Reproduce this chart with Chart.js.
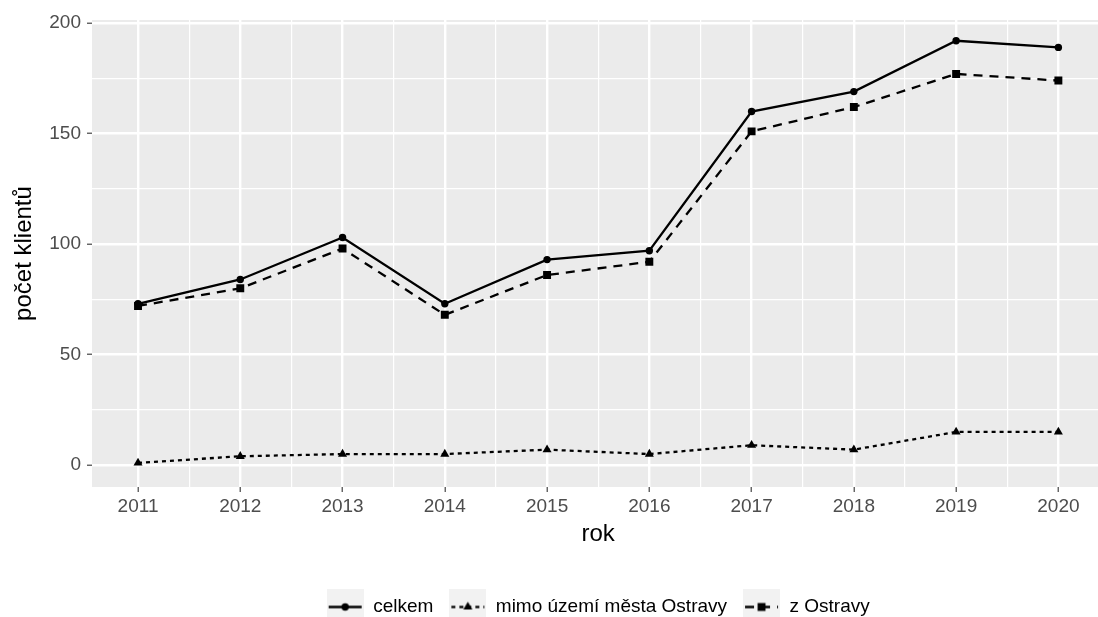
<!DOCTYPE html>
<html lang="cs">
<head>
<meta charset="utf-8">
<title>Počet klientů podle roku</title>
<script src="https://cdn.jsdelivr.net/npm/chart.js@4.4.1/dist/chart.umd.min.js"></script>
<style>
    html, body { margin: 0; padding: 0; background: #ffffff; }
    /* okno obrázku - panel grafu přesahuje vpravo, jako v předloze */
    #ramecek { width: 1098px; height: 617px; overflow: hidden; position: relative; }
    #plocha { position: absolute; left: 0; top: 0; width: 1110px; height: 630px; }
</style>
</head>
<body>
<div id="ramecek"><div id="plocha"><canvas id="graf-klienti"></canvas></div></div>
<script>
// Data grafu
const roky = [2011, 2012, 2013, 2014, 2015, 2016, 2017, 2018, 2019, 2020];
const klientiCelkem = [73, 84, 103, 73, 93, 97, 160, 169, 192, 189];
const klientiMimoOstravu = [1, 4, 5, 5, 7, 5, 9, 7, 15, 15];
const klientiZOstravy = [72, 80, 98, 68, 86, 92, 151, 162, 177, 174];
const nazvySerii = ['celkem', 'mimo území města Ostravy', 'z Ostravy'];
const hodnotyOsyY = [0, 50, 100, 150, 200];

// Rozsah os (rozšíření jako v ggplotu)
const osaXMin = 2010.55;
const osaXMax = 2020.45;
const osaYMin = -9.9;
const osaYMax = 201.4;

const pismo = "'Liberation Sans', Arial, sans-serif";
Chart.defaults.font.family = pismo;

/**
 * Hlavní hodnoty + vedlejší (v polovině mezi nimi) pro mřížku
 */
function seVedlejsimi(hlavni, min, max) {
    const vysledek = [];
    hlavni.forEach(function(v, i) {
        vysledek.push(v);
        if (i < hlavni.length - 1) {
            vysledek.push((v + hlavni[i + 1]) / 2);
        }
    });
    return vysledek.filter(v => v >= min && v <= max);
}

function mrizka(hlavni) {
    const jeHlavni = ctx => ctx.tick && hlavni.includes(ctx.tick.value);
    return {
        color: '#FFFFFF',
        lineWidth: ctx => jeHlavni(ctx) ? 2.4 : 1.2,
        drawTicks: true,
        tickLength: 5,
        tickWidth: 1.1,
        tickColor: ctx => jeHlavni(ctx) ? '#333333' : 'rgba(0,0,0,0)'
    };
}

// Šedé pozadí panelu
const pozadiPanelu = {
    id: 'pozadiPanelu',
    beforeDraw(chart) {
        const { ctx, chartArea: a } = chart;
        ctx.save();
        ctx.fillStyle = '#EBEBEB';
        ctx.fillRect(a.left, a.top, a.right - a.left, a.bottom - a.top);
        ctx.restore();
    }
};

/**
 * Klíč legendy: čára + značka na světle šedém čtverci
 */
function klicLegendy(ds) {
    const c = document.createElement('canvas');
    c.width = 37;
    c.height = 37;
    const g = c.getContext('2d');
    g.fillStyle = '#F2F2F2';
    g.fillRect(0, 0, 37, 37);
    g.strokeStyle = '#000000';
    g.lineWidth = ds.borderWidth;
    g.setLineDash(ds.borderDash);
    g.beginPath();
    g.moveTo(2, 18.5);
    g.lineTo(35, 18.5);
    g.stroke();
    g.setLineDash([]);
    g.fillStyle = '#000000';
    Chart.helpers.drawPoint(g, {
        pointStyle: ds.pointStyle,
        radius: ds.pointRadius,
        rotation: 0,
        borderWidth: 0
    }, 18.5, 18.5);
    return c;
}

function serie(nazev, hodnoty, znacka, polomer, carkovani) {
    return {
        label: nazev,
        data: roky.map((r, i) => ({ x: r, y: hodnoty[i] })),
        borderColor: '#000000',
        backgroundColor: '#000000',
        borderWidth: 2.3,
        borderDash: carkovani,
        borderCapStyle: 'butt',
        tension: 0,
        fill: false,
        pointStyle: znacka,
        pointRadius: polomer,
        pointBackgroundColor: '#000000',
        pointBorderColor: '#000000',
        pointBorderWidth: 0
    };
}

const datasety = [
    serie(nazvySerii[0], klientiCelkem, 'circle', 3.7, []),
    serie(nazvySerii[1], klientiMimoOstravu, 'triangle', 5.2, [4, 4]),
    serie(nazvySerii[2], klientiZOstravy, 'rect', 5.6, [9, 7])
];

const tickyX = seVedlejsimi(roky, osaXMin, osaXMax);
const tickyY = seVedlejsimi(hodnotyOsyY, osaYMin, osaYMax);

new Chart(document.getElementById('graf-klienti'), {
    type: 'line',
    data: { datasets: datasety },
    options: {
        responsive: true,
        maintainAspectRatio: false,
        animation: false,
        devicePixelRatio: 1,
        events: [],
        layout: { padding: { top: 20, right: 0, bottom: 3.5, left: 0 } },
        scales: {
            x: {
                type: 'linear',
                min: osaXMin,
                max: osaXMax,
                afterBuildTicks: scale => { scale.ticks = tickyX.map(v => ({ value: v })); },
                afterFit: scale => { scale.height = 94.5; },
                ticks: {
                    autoSkip: false,
                    maxRotation: 0,
                    padding: 3,
                    color: '#4D4D4D',
                    font: { size: 19 },
                    callback: v => roky.includes(v) ? String(v) : ''
                },
                grid: mrizka(roky),
                border: { display: false },
                title: {
                    display: true,
                    text: 'rok',
                    color: '#000000',
                    font: { size: 24 },
                    padding: { top: 0, bottom: 32.6 }
                }
            },
            y: {
                type: 'linear',
                min: osaYMin,
                max: osaYMax,
                afterBuildTicks: scale => { scale.ticks = tickyY.map(v => ({ value: v })); },
                afterFit: scale => { scale.width = 92; },
                ticks: {
                    autoSkip: false,
                    padding: 6,
                    color: '#4D4D4D',
                    font: { size: 19 },
                    callback: v => hodnotyOsyY.includes(v) ? String(v) : ''
                },
                grid: mrizka(hodnotyOsyY),
                border: { display: false },
                title: {
                    display: true,
                    text: 'počet klientů',
                    color: '#000000',
                    font: { size: 24 },
                    padding: { top: 10, bottom: 0 }
                }
            }
        },
        plugins: {
            tooltip: { enabled: false },
            legend: {
                position: 'bottom',
                fullSize: false,
                align: 'center',
                labels: {
                    usePointStyle: true,
                    pointStyleWidth: 37,
                    padding: 16,
                    color: '#000000',
                    font: { size: 19 },
                    generateLabels: chart => chart.data.datasets.map((ds, i) => ({
                        text: ds.label,
                        pointStyle: klicLegendy(ds),
                        fontColor: '#000000',
                        fillStyle: 'rgba(0,0,0,0)',
                        strokeStyle: 'rgba(0,0,0,0)',
                        lineWidth: 0,
                        hidden: false,
                        datasetIndex: i
                    }))
                }
            }
        }
    },
    plugins: [pozadiPanelu]
});
</script>
</body>
</html>
